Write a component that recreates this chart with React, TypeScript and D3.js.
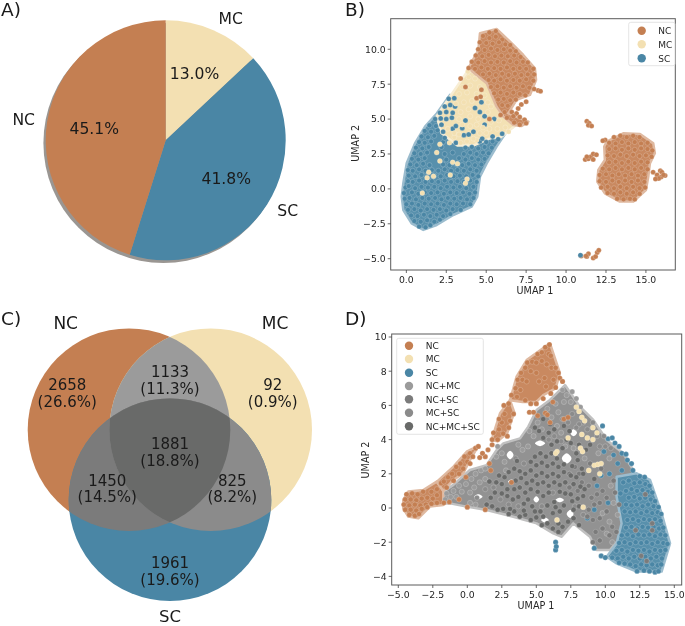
import React from "react";
import * as d3 from "d3";

type P = [number, number];
const BROWN = "#c47f52", CREAM = "#f3e0b2", BLUE = "#4a86a5";
const GA = "#9b9b9b", GB = "#7b7b7b", GC = "#8b8b8b", GD = "#696a69";
const FONT = "'DejaVu Sans', sans-serif";

// Panel A
const pieNames = ["MC", "SC", "NC"];
const pieValues = [13.0, 41.8, 45.1];
const pieColors = [CREAM, BLUE, BROWN];

// Panel C
const vennCounts = [
  ["2658", "(26.6%)"], ["1133", "(11.3%)"], ["92", "(0.9%)"], ["1881", "(18.8%)"],
  ["1450", "(14.5%)"], ["825", "(8.2%)"], ["1961", "(19.6%)"],
];

// Panel B
const bXTicks = [0, 2.5, 5, 7.5, 10, 12.5, 15];
const bYTicks = [-5, -2.5, 0, 2.5, 5, 7.5, 10];
const bHullSC: P[] = [[2.73,6.73],[1.9,5.4],[1.17,4.46],[.54,3.26],[.02,1.83],[-.19,.4],[-.29,-.56],[-.19,-1.51],[.33,-2.47],[1.06,-2.94],[1.9,-2.59],[2.94,-1.87],[4.09,-1.27],[4.44,-.56],[4.61,.88],[5.03,1.83],[5.65,3.03],[6.28,4.1],[4.5,5]];
const bHullMC: P[] = [[3.88,8.52],[2.73,6.61],[1.9,5.2],[2.2,4],[3.2,3.1],[4.19,3.1],[5.2,3.6],[5.9,3.7],[6.8,4.5],[6.07,5.18],[5.65,5.89],[5.03,7.8]];
const bHullNC: P[] = [[3.88,8.64],[4.51,9.95],[4.61,11.15],[5.65,11.46],[6.49,10.55],[7.32,9.59],[8.05,8.64],[8.12,7.8],[7.74,6.73],[6.9,6.37],[6.38,5.41],[7.64,4.82],[7.22,4.51],[6.7,4.58],[6.07,5.18],[5.65,5.89],[5.03,7.56]];
const bHullBlob: P[] = [[12.54,3.38],[13.58,3.98],[14.63,3.93],[15.46,3.26],[15.56,2.55],[15.25,1.83],[15.15,.88],[15,-.08],[14.21,-.91],[13.37,-.91],[12.43,-.32],[11.95,.52],[12.02,1.35],[12.43,2.07],[12.39,3.03]];
const bSC: P[] = [
[.8,-2.7],[1.2,-2.75],[1.5,-2.6],[.5,-2.3],[.9,-2.35],[1.3,-2.25],[1.75,-2.35],[2.1,-2.2],
[.3,-1.9],[.7,-1.95],[1.1,-1.85],[1.5,-1.95],[1.9,-1.85],[2.3,-1.95],[2.75,-1.8],
[.1,-1.5],[.5,-1.45],[.9,-1.55],[1.3,-1.45],[1.7,-1.5],[2.1,-1.45],[2.5,-1.55],[2.9,-1.45],[3.4,-1.5],
[0,-1.1],[.35,-1.05],[.75,-1.15],[1.15,-1.05],[1.55,-1.1],[1.95,-1.05],[2.35,-1.15],[2.75,-1.05],[3.15,-1.1],[3.55,-1.05],[4,-1.1],
[-.1,-.7],[.2,-.65],[.6,-.75],[1,-.65],[1.4,-.7],[1.8,-.65],[2.2,-.75],[2.6,-.65],[3,-.7],[3.4,-.65],[3.8,-.75],[4.2,-.65],
[-.15,-.3],[.35,-.25],[.75,-.35],[1.15,-.25],[1.55,-.3],[1.95,-.25],[2.35,-.35],[2.75,-.25],[3.15,-.3],[3.55,-.25],[3.95,-.35],[4.3,-.25],
[-.05,.1],[.15,.2],[.55,.05],[.95,.15],[1.35,.1],[1.75,.15],[2.15,.05],[2.55,.15],[2.95,.1],[3.35,.15],[3.75,.05],[4.2,.15],
[.1,.55],[.4,.5],[.8,.6],[1.2,.5],[1.6,.55],[2,.5],[2.4,.6],[2.8,.5],[3.2,.55],[3.6,.5],[4,.6],[4.4,.5],
[.15,.95],[.55,.9],[.95,1],[1.35,.9],[1.75,.95],[2.15,.9],[2.55,1],[2.95,.9],[3.35,.95],[3.75,.9],[4.15,1],[4.5,.9],
[.1,1.35],[.4,1.3],[.8,1.4],[1.2,1.3],[1.6,1.35],[2,1.3],[2.4,1.4],[2.8,1.3],[3.2,1.35],[3.6,1.3],[4,1.4],[4.4,1.3],
[.25,1.75],[.65,1.7],[1.05,1.8],[1.45,1.7],[2.3,1.75],[2.7,1.7],[3.1,1.8],[3.5,1.7],[3.9,1.8],[4.3,1.7],[4.7,1.75],
[.35,2.15],[.75,2.1],[1.15,2.2],[2.5,2.1],[3.3,2.2],[3.7,2.1],[4.1,2.2],[4.5,2.1],[4.9,2.15],
[.5,2.55],[.9,2.5],[1.3,2.6],[2.4,2.5],[2.9,2.6],[3.6,2.5],[4,2.6],[4.4,2.5],[4.8,2.6],[5.15,2.55],
[.6,2.95],[1,2.9],[1.4,3],[2.2,3],[3.7,2.95],[4.1,3],[4.5,2.9],[4.9,3],[5.35,2.95],
[.8,3.35],[1.15,3.3],[1.55,3.4],[2.3,3.35],[3.1,3.3],[4.6,3.4],[5,3.35],[5.4,3.4],[5.75,3.55],
[.95,3.75],[1.35,3.7],[1.75,3.8],[2.4,3.65],[3.6,3.85],[3.9,3.9],[4.75,3.6],[5.4,3.75],[6,3.95],
[1.15,4.15],[1.55,4.1],[1.95,4.2],[2.3,4.1],[2.9,4.3],[3.5,4.35],[4.2,4.1],
[1.45,4.55],[1.85,4.5],[2.2,4.6],[3.1,4.5],[4.9,4.6],[5.5,5],
[1.8,5],[2.15,5.05],[2.5,5],[2.85,5.1],
[2.1,5.45],[2.5,5.5],[2.9,5.45],[4.6,5.5],[3.7,4.9],
[2.4,5.9],[2.75,6],[3.05,5.9],[4.9,5.2],[2.65,6.45],[3,6.5],[4.7,6.2],[4.3,5.8]
];
const bMC: P[] = [
[2.1,3.2],[1.9,2.6],[2.7,3.3],[2.1,2],[2.9,1.9],[3.2,1.8],[1.4,1.2],[1.7,.9],[2.75,1],[1.3,.8],[3.8,.7],[3.7,.4],[1,-.3],
[3,3.7],[3.4,3.3],[3,4],[3.3,3.9],[3.8,3.4],[4.4,3.5],[5,4],[4.2,3.6],[4.6,4],[5.2,4.3],[5.7,4.3],[6.2,4.4],[6.4,4.1],
[2.6,4.3],[3.5,4.6],[4,4.5],[4.4,4.6],[4.8,4.4],[5.3,4.8],[5.8,4.9],[3.3,5],[4,5.2],[4.5,5],[5.1,5.5],[3.4,5.5],[3.9,5.7],
[3.1,6.1],[3.6,6.2],[4.1,6.3],[5.1,6.2],[3.3,6.8],[3.8,6.9],[4.4,6.8],[4.9,6.7],[3.5,7.3],[4,7.4],[4.6,7.3],[3.9,8],[4.3,7.9],[3.85,8.4],[5.3,5.9]
];
const bNC: P[] = [
[5.2,11.2],[5.6,11.3],[4.8,10.95],[5.2,10.8],[5.6,10.9],[6,10.7],[4.6,10.5],[5,10.45],[5.4,10.4],[5.8,10.5],[6.2,10.35],[6.5,10.3],
[4.5,10],[4.9,9.95],[5.3,10.05],[5.7,9.95],[6.1,10],[6.5,9.9],[6.85,9.85],[4.35,9.55],[4.75,9.5],[5.15,9.6],[5.55,9.5],[5.95,9.55],[6.35,9.5],[6.75,9.55],[7.15,9.45],
[4.1,9.1],[4.5,9.05],[4.9,9.15],[5.3,9.05],[5.7,9.1],[6.1,9.05],[6.5,9.15],[6.9,9.05],[7.3,9.1],[7.6,9.05],
[3.9,8.65],[4.3,8.6],[4.7,8.7],[5.1,8.6],[5.5,8.65],[5.9,8.6],[6.3,8.7],[6.7,8.6],[7.1,8.65],[7.5,8.6],[7.95,8.6],
[4.8,8.2],[5.2,8.25],[5.6,8.15],[6,8.25],[6.4,8.15],[6.8,8.25],[7.2,8.15],[7.6,8.2],[8,8.2],
[5.15,7.8],[5.5,7.75],[5.9,7.85],[6.3,7.75],[6.7,7.8],[7.1,7.75],[7.5,7.85],[7.95,7.75],[8.25,7.05],[8.4,7],[8,7.15],
[5.3,7.3],[5.7,7.35],[6.1,7.25],[6.5,7.35],[6.9,7.25],[7.3,7.35],[7.7,7.25],[5.5,6.85],[5.9,6.9],[6.3,6.8],[6.7,6.9],[7.1,6.8],[7.45,6.7],
[5.75,6.4],[6.1,6.45],[6.5,6.35],[6.85,6.4],[7.5,6.25],[6,6],[6.35,5.95],[7.2,6.05],[6.15,5.5],[6.6,5.5],[7,5.75],[6.9,5.4],
[6.3,5.1],[6.7,5.2],[7.1,5.15],[7.4,4.95],[6.75,4.75],[7.1,4.6],[7.5,4.7],[3.7,7.3],[4.7,7.1],[4.4,6.5],[4.65,6.6],[5.2,5],[5.9,5.3],[3.4,7.9]
];
const bNCOther: P[] = [
[11.3,4.85],[11.45,4.7],[11.4,4.55],[11.6,4.5],[11.2,2.1],[11.4,2.15],[11.55,2.3],[11.7,2.5],[11.3,2.3],[11.9,2.45],[11.7,2.1],[12.45,3.5],[12.3,3.45],
[10.95,-4.8],[11.3,-4.85],[11.4,-4.65],[11.7,-4.95],[11.85,-4.85],[11.95,-4.55],[12.05,-4.4],[11.25,-4.8],
[15.45,1.2],[15.7,1],[15.9,1.3],[16,1.2],[16.2,.95],[15.95,.85],[15.8,.75],[15.6,.7],[16.1,1],
[13,3.7],[13.4,3.8],[13.8,3.7],[14.2,3.8],[14.6,3.7],[12.7,3.3],[13.1,3.25],[13.5,3.35],[13.9,3.25],[14.3,3.35],[14.7,3.25],[15.1,3.3],
[12.7,2.85],[13.1,2.9],[13.5,2.8],[13.9,2.9],[14.3,2.8],[14.7,2.9],[15.1,2.85],[15.4,2.75],
[12.6,2.4],[13,2.35],[13.4,2.45],[13.8,2.35],[14.2,2.45],[14.6,2.35],[15,2.4],[15.35,2.3],
[12.7,1.9],[13.1,1.95],[13.5,1.85],[13.9,1.95],[14.3,1.85],[14.7,1.95],[15.1,1.9],
[12.3,1.45],[12.7,1.4],[13.1,1.5],[13.5,1.4],[13.9,1.5],[14.3,1.4],[14.7,1.5],[15.1,1.4],
[12.1,1],[12.5,1.05],[12.9,.95],[13.3,1.05],[13.7,.95],[14.1,1.05],[14.5,.95],[14.9,1.05],
[12.1,.55],[12.5,.5],[12.9,.6],[13.3,.5],[13.7,.6],[14.1,.5],[14.5,.6],[14.9,.5],
[12.2,.1],[12.6,.15],[13,.05],[13.4,.15],[13.8,.05],[14.2,.15],[14.6,.05],[14.95,.1],
[12.6,-.3],[13,-.35],[13.4,-.25],[13.8,-.35],[14.2,-.25],[14.6,-.35],[13.2,-.7],[13.6,-.75],[14,-.7],[14.3,-.75]
];
const bSCOther: P[] = [[10.9,-4.75]];

// Panel D
const dXTicks = [-5, -2.5, 0, 2.5, 5, 7.5, 10, 12.5, 15];
const dYTicks = [-4, -2, 0, 2, 4, 6, 8, 10];
const dHullGrey: P[] = [[-1.74,.96],[-1.01,1.35],[.19,2.22],[1.4,2.51],[2.13,3.39],[2.61,3.78],[3.82,4.07],[4.42,4.76],[5.02,5.73],[5.99,6.32],[7.08,7.19],[8.16,5.93],[9.13,5.15],[10.1,3.98],[11.3,3.2],[12.03,2.22],[11.55,-1.29],[10.34,-2.46],[9.37,-2.46],[8.89,-1.68],[7.68,-.9],[6.84,-1.68],[6.23,-1.48],[5.02,-.9],[3.33,-.51],[1.4,-.12],[-.05,.08],[-1.26,.27],[-1.74,.27]];
const dHullBlue: P[] = [[10.82,1.83],[12.27,2.03],[13.24,1.64],[14.08,-.31],[14.69,-2.07],[14.08,-3.72],[12.27,-3.72],[10.82,-3.24],[10.1,-2.85],[10.82,-2.07],[11.18,-.9],[10.82,.66]];
const dHullNC: P[] = [[-4.64,.47],[-4.28,.96],[-3.19,1.05],[-2.22,1.54],[-1.74,1],[-1.74,.18],[-2.7,.08],[-3.55,-.6],[-4.28,-.5],[-4.64,-.02]];
const dHullNCUp: P[] = [[3.1,6.3],[3.57,7.68],[4.3,8.65],[5.99,9.63],[6.71,7.88],[6.4,7],[5.5,6.6],[5,6.2],[4,6.2]];
const dHullNCStrand: P[] = [[1.76,3.98],[2.37,5.54],[3.09,6.32],[3.4,5.6],[2.9,4.4],[2.2,3.9]];
const dHullNCTail: P[] = [[-2.2,1.54],[-1,2.42],[-.05,3.29],[.8,3.63],[.19,2.8],[-.29,2.03],[-1.01,1.64],[-1.74,1]];
const dGaps: P[][] = [
[[.5,.66],[.8,.8],[1.1,.66],[.8,.52]],[[6.4,.47],[6.7,.6],[7,.47],[6.7,.34]],[[7.2,-.35],[7.45,-.12],[7.7,-.35],[7.45,-.58]],
[[2.95,1.54],[3.2,1.66],[3.45,1.54],[3.2,1.42]],[[6.85,2.9],[7.2,3.2],[7.55,2.9],[7.2,2.6]],[[4.9,3.78],[5.27,3.95],[5.64,3.78],[5.27,3.61]],
[[5.35,-.7],[5.63,-.55],[5.9,-.7],[5.63,-.85]],[[4.8,.5],[5,.68],[5.2,.5],[5,.32]],[[2.85,3.1],[3.1,3.35],[3.35,3.1],[3.1,2.85]],[[7.45,4.4],[7.7,4.6],[7.95,4.4],[7.7,4.2]],
];
const dNC: P[] = [
[-4.4,.8],[-4,.85],[-3.6,.8],[-3.2,.95],[-4.5,.5],[-4.1,.5],[-3.7,.45],[-3.3,.55],[-2.9,.6],[-2.5,.55],[-4.6,.2],[-4.2,.15],[-3.8,.2],[-3.4,.15],[-3,.2],[-2.6,.25],[-2.2,.3],[-4.5,-.1],[-4.1,-.1],[-3.7,-.15],[-3.3,-.05],[-2.9,.05],[-4.2,-.4],[-3.8,-.45],[-3.5,-.35],
[-2.6,.95],[-2.2,1.1],[-1.9,1.45],[-2.2,.75],[-1.7,1.55],[-1.4,1.8],[-1.1,2],[-.8,2.4],[-1.5,1.2],[-1,1.6],[-.5,2.6],[-.2,3],[.2,3.2],[.6,3.5],[.8,3.6],[0,2.7],[-.3,2.3],[-.6,2],[.4,3],[.2,2.6],[-.1,1.8],[.9,2.95],[1.3,3],[1.5,3.4],[1.1,3.2],[1.6,2.6],[1.8,3.7],
[-1.7,.3],[-1.3,.35],[-.6,.5],[0,.05],[1.3,-.1],[1.7,2.2],[3.2,1.5],
[1.8,4],[1.9,4.4],[2.2,4],[2.3,4.6],[2.5,5],[2.9,4.2],[2.6,4.35],[3,4.7],[2.3,5.2],[2.7,5.5],[3.1,5.1],[2.65,6],[3,6.1],[3.35,5.5],[3.2,6.6],[3.6,6.5],[3.5,7],[3.85,6.9],[4.2,6.3],[4.6,6.1],[3.65,7.5],[4,7.5],[3.9,7.9],[4.3,7.4],[4.2,8.2],[4.6,8],[4.35,8.5],[4.7,8.55],[5,7.9],[5,8.5],[5.1,9],[5.4,8.6],[5.4,9.1],[5.65,9.4],[5.95,9.55],[5.9,9],[6.05,8.9],[5.75,8.4],[5.2,7.4],[5.6,7.6],[6.1,8.2],[6.4,8.2],[6.6,7.9],[6.7,7.6],[6.25,7.5],[5.7,7.1],[6.4,7.05],[6.9,7.4],[6.05,6.7],[5.5,6.4],[5,6.1],[4.5,5.6],[4.8,5.6],[5.1,5.4],[6.2,6.2],[5.65,5.55],[7,5.2],[7.3,5.3],[6,5],[5.8,5.45]
];
const dMC: P[] = [[7.9,5.9],[8.1,5.65],[8.3,5.3],[8.5,5.1],[9.1,4.7],[9.4,4.4],[8.3,4.3],[8.7,4.1],[9.1,4],[7.3,4.1],[6.5,3.3],[6.4,3.2],[8.2,3.5],[8.35,3.3],[9.2,2.5],[9.45,2.55],[9.7,2.6],[8.8,2.2],[9.6,2],[8.4,.05],[6.5,-.7]];
const dSC: P[] = [
[9.8,4.8],[10.2,4.05],[10.5,4.1],[10.7,3.8],[11,3.6],[9.9,3.3],[11.2,3.2],[11.5,3.15],[11.6,2.8],[10.6,3.1],[11.9,2.6],[12,2.2],[12.5,1.85],[12.85,1.8],[11.2,2.2],[10.9,2.6],[9.7,1.9],[9.4,1.3],[10.3,2],
[11.3,1.5],[11.7,1.6],[12.1,1.45],[12.5,1.5],[12.9,1.4],[13.2,1.3],[11.5,1],[11.9,1.1],[12.3,1],[12.7,1.05],[13.1,.95],[13.4,.9],[11.1,.85],[11.7,.6],[12.1,.65],[12.5,.55],[12.9,.6],[13.3,.5],[13.6,.4],[11.5,.2],[11.9,.15],[12.3,.2],[12.7,.1],[13.1,.2],[13.5,.1],[13.85,.05],
[11.4,-.2],[11.8,-.25],[12.2,-.2],[12.6,-.3],[13,-.2],[13.4,-.3],[13.8,-.25],[14.05,-.35],[11.6,-.7],[12,-.65],[12.4,-.75],[12.8,-.65],[13.2,-.7],[13.6,-.65],[14,-.75],[11.5,-1.15],[11.9,-1.1],[12.3,-1.2],[12.7,-1.1],[13.1,-1.15],[13.5,-1.1],[13.9,-1.2],[14.2,-1.15],
[11.2,-1.6],[11.6,-1.55],[12,-1.65],[12.4,-1.55],[12.8,-1.6],[13.2,-1.55],[13.6,-1.65],[14,-1.55],[14.35,-1.6],[11,-2.05],[11.4,-2],[11.8,-2.1],[12.2,-2],[12.6,-2.05],[13,-2],[13.4,-2.1],[13.8,-2],[14.2,-2.05],[14.5,-2.1],
[10.8,-2.5],[11.2,-2.45],[11.6,-2.55],[12,-2.45],[12.4,-2.5],[12.8,-2.45],[13.2,-2.55],[13.6,-2.45],[14,-2.5],[14.35,-2.45],[10.5,-2.9],[10.9,-2.95],[11.3,-2.85],[11.7,-2.95],[12.1,-2.85],[12.5,-2.95],[12.9,-2.85],[13.3,-2.95],[13.7,-2.85],[14.1,-2.95],
[11,-3.2],[11.4,-3.25],[11.8,-3.3],[12.2,-3.4],[12.6,-3.3],[13,-3.35],[13.4,-3.3],[13.8,-3.35],[14.05,-3.3],[12.3,-3.7],[12.8,-3.65],[13.2,-3.7],[13.6,-3.75],[13.85,-3.7],
[9.2,-2.35],[9.7,-2.8],[10,-2.9],[6.4,-2],[6.4,-2.45],[6.45,-2.25],[8.7,-.6],[9.2,-.1],[10.2,.3]
];
const dNcMc: P[] = [
[-1.6,.5],[-1.2,.65],[-1.5,.85],[-1,1],[-.8,.65],[-.4,.95],[-.6,1.3],[-.1,1.4],[.3,1.7],[.6,2],[1,2.2],[1.3,2.3],[.2,.9],[.5,1.2],[.9,1.5],[1.3,1.7],[.2,.3],[.6,.2],
[2.2,3.6],[2.5,3.2],[2.1,3],[2.7,2.7],[2.8,2.2],[3.7,3.7],[4,3.4],[4.4,3.6],
[4.5,4.5],[4.8,4.2],[5.1,5],[5.4,4.6],[5.8,5.8],[6.1,5.3],[6.4,6.1],[6.6,5.6],[6.9,6.9],[7.2,6.6],[7.5,6.2],[7,6.2],[7.6,6.8],[7.9,6.4],[8.2,5.9],[6.5,4.8],[6.8,4.4],
[7.1,3.6],[7.7,3.5],[8.5,2.9],[9.5,3.2],[10.3,2.9],[10.4,1.3],[10.6,.3],[10.9,-.4],[10.3,-.8],[10.1,-1.5],[10.5,-2],[9.8,-.3]
];
const dNcSc: P[] = [
[7.4,1.2],[8,1],[8.3,1.5],[8.8,1.3],[9,.6],[9.4,.8],[9.8,1],[9.2,.2],[9.6,.3],[8.8,-.1],[9.6,-.6],[9.1,-.7],[8.7,-.5],[10.1,-.2],[10.1,.6],[10.7,.9],[11,.2],[10.5,-1.1],[9.8,-1.2],[9.3,-1.4],[9.6,-1.9],[9.1,-2],[10.3,-1.6],[10.8,-1.4],
[12.6,-2.8],[13,-3.1],[13.4,-1.3],[12.2,-1.3],[12.9,.8],[13.4,-.9],[8.1,2],[8.9,2.6],[9.7,2.3],[7.8,2.4],[7.4,2],[10.6,1.6]
];
const dMcSc: P[] = [
[8.4,5],[8.7,4.6],[9.1,5],[9.4,4.2],[9.9,4.2],[9.6,3.6],[10,3.6],[10.4,3.5],[8.1,4.9],[7.9,4.7],[6.9,5.2],[7.3,5],[7.6,5.5],[6.3,4.2],[6.8,3.9],[5.9,4],[3.5,2.9],[4.1,2.6],[1.9,1.2],[1.3,1.1],[.7,.6],[2.4,.5],[3,.2],[3.7,.1],[5.4,.1],[6.2,.9],[7.8,.1],[8.4,-.4]
];
const dAll: P[] = [
[1.4,.2],[1.8,.1],[2.2,-.1],[2.6,-.05],[3,-.35],[3.4,-.2],[3.8,-.5],[4.2,-.4],[4.6,-.7],[5,-.55],[5.4,-1],[5.8,-.9],[6.2,-1.2],[6.6,-1.4],[6.9,-1.1],[7.3,-.8],[6.6,-.9],[7.7,-.6],[8.1,-1],
[1.7,.6],[2,.9],[2.5,.85],[2.9,.7],[3.3,.5],[3.7,.65],[4.1,.25],[4.4,.5],[4.7,.1],[5.3,-.2],[5.8,.15],[6.2,-.3],[6.7,-.2],[7,.15],[7.6,.4],[3.1,-.05],[4.1,-.15],
[1.6,1.55],[2.1,1.5],[2.5,1.4],[2.9,1.1],[3.4,1.1],[3.8,1.2],[4.2,.9],[4.6,1.1],[5.1,.95],[5.5,.7],[5.9,.9],[6.3,.35],[6.7,.95],[7.1,.85],[7.5,.8],[8,.55],[8.4,.7],
[2.3,1.9],[2.7,1.8],[3.5,1.6],[3.9,1.75],[4.3,1.45],[4.7,1.6],[5.1,1.4],[5.5,1.5],[5.9,1.3],[6.3,1.5],[6.7,1.35],[7.1,1.5],[7.7,1.4],[8.2,1.25],
[3,2.1],[3.4,2.3],[3.8,2.15],[4.2,2],[4.6,2.2],[5,1.9],[5.4,2.05],[5.8,1.85],[6.2,2],[6.6,1.85],[7,2.1],[7.5,1.9],[7.9,1.8],[8.4,2],
[3.6,2.75],[4.6,2.7],[5,2.5],[5.4,2.65],[5.8,2.45],[6.2,2.6],[6.6,2.4],[7,2.55],[7.6,2.45],[8,2.8],[8.3,2.3],
[4.9,3],[5.3,3.2],[5.7,3],[6.1,3.2],[6.5,2.9],[7.9,3.2],[8.1,3.7],[7.5,3.8],[6.1,3.7],[6.5,3.9],[6.9,3.5],
[5.9,4.4],[6.3,4.6],[7,4.8],[7.4,4.5],[7.2,4],[5.5,4.1],[5.2,4.5],[4.9,4.7],[5.5,5.2],[6,4.9],[8.9,3.7],[8.6,3.4],
[7.7,-.1],[8.1,.1],[5.5,-.5],[4.9,-.2],[6.4,.05],[8.5,1.1],[9.2,1.7]
];

const dLegend: [string, string][] = [["NC", BROWN],["MC", CREAM],["SC", BLUE],["NC+MC", GA],["NC+SC", GB],["MC+SC", GC],["NC+MC+SC", GD]];
const bLegend: [string, string][] = [["NC", BROWN],["MC", CREAM],["SC", BLUE]];

function tone(c: string, t: number) { return d3.interpolateRgb(c, "#ffffff")(t); }
const fmt = (v: number, digits: number) => (v < 0 ? "\u2212" : "") + Math.abs(v).toFixed(digits);

function Frame({ x, y, box, xTicks, yTicks, yDigits, labelY1, labelX2, labelCy, labelCx }: any) {
  const [left, top, right, bottom] = box;
  return (
    <g fontFamily={FONT} fill="#262626">
      <rect x={left} y={top} width={right - left} height={bottom - top} fill="none" stroke="#5a5a5a" strokeWidth={1} />
      {xTicks.map((v: number) => (
        <g key={v}>
          <line x1={x(v)} x2={x(v)} y1={bottom} y2={bottom + 3} stroke="#444" strokeWidth={0.8} />
          <text x={x(v)} y={bottom + 12.5} textAnchor="middle" fontSize={9.3}>{fmt(v, 1)}</text>
        </g>
      ))}
      {yTicks.map((v: number) => (
        <g key={v}>
          <line x1={left} x2={left - 3} y1={y(v)} y2={y(v)} stroke="#444" strokeWidth={0.8} />
          <text x={left - 5} y={y(v) + 3.4} textAnchor="end" fontSize={9.3}>{fmt(v, yDigits)}</text>
        </g>
      ))}
      <text x={labelCx} y={labelY1} textAnchor="middle" fontSize={9.6}>UMAP 1</text>
      <text transform={`translate(${labelX2},${labelCy}) rotate(-90)`} textAnchor="middle" fontSize={9.6}>UMAP 2</text>
    </g>
  );
}

function Dots({ pts, x, y, color, r }: { pts: P[]; x: any; y: any; color: string; r: number }) {
  return <g>{pts.map((p, i) => <circle key={i} cx={x(p[0])} cy={y(p[1])} r={r} fill={color} stroke="#fff" strokeOpacity={0.4} strokeWidth={0.5} />)}</g>;
}

function Legend({ items, box, mx, tx, ys, fs }: any) {
  return (
    <g fontFamily={FONT}>
      <rect x={box[0]} y={box[1]} width={box[2]} height={box[3]} rx={2} fill="#fff" fillOpacity={0.85} stroke="#ddd" strokeWidth={0.8} />
      {items.map((it: [string, string], i: number) => (
        <g key={it[0]}>
          <circle cx={mx} cy={ys[i]} r={4.2} fill={it[1]} />
          <text x={tx} y={ys[i] + 3.2} fontSize={fs} fill="#262626">{it[0]}</text>
        </g>
      ))}
    </g>
  );
}

function Blob({ pts, x, y, color, t }: any) {
  const line = d3.line<P>().x(p => x(p[0])).y(p => y(p[1])).curve(d3.curveLinearClosed);
  return <path d={line(pts) as string} fill={tone(color, t)} stroke={tone(color, 0.45)} strokeWidth={2.5} strokeLinejoin="round" />;
}

export default function App() {
  const pie = d3.pie<number>().sort(null).startAngle(0).endAngle(2 * Math.PI)(pieValues);
  const arc = d3.arc<any>().innerRadius(0).outerRadius(120);

  const bx = d3.scaleLinear().domain([-0.98, 16.84]).range([390.7, 675.3]);
  const by = d3.scaleLinear().domain([-5.81, 12.19]).range([270, 18.7]);
  const dx = d3.scaleLinear().domain([-5, 15]).range([398.3, 674.3]);
  const dy = d3.scaleLinear().domain([-4, 10]).range([576.4, 337]);
  const gapLine = d3.line<P>().x(p => dx(p[0])).y(p => dy(p[1])).curve(d3.curveCatmullRomClosed);

  const cNC = [129, 429.7], cMC = [210.7, 429.7], cSC = [170, 499.7], R = 101.3;
  const vennPos: [number, number, number][] = [[67.3, 384.3, 401], [170, 371, 388.3], [272.7, 384.3, 401], [170, 443.3, 460.7], [107.3, 480, 496.7], [232.3, 480, 496.7], [170, 562.3, 579.3]];

  return (
    <svg width={685} height={626} style={{ position: "absolute", left: 0, top: 0, filter: "blur(0.35px)" }} fontFamily={FONT}>
      <defs>
        <clipPath id="cnc"><circle cx={cNC[0]} cy={cNC[1]} r={R} /></clipPath>
        <clipPath id="cmc"><circle cx={cMC[0]} cy={cMC[1]} r={R} /></clipPath>
      </defs>
      <rect width={685} height={626} fill="#fff" />

      {/* A */}
      <text x={1} y={15.5} fontSize={18.5} fill="#1a1a1a">A)</text>
      <circle cx={163.4} cy={143} r={120} fill="#9a9692" />
      <g transform="translate(165.7,140.3)">
        {pie.map((s, i) => <path key={i} d={arc(s) as string} fill={pieColors[i]} />)}
      </g>
      <g fontSize={15.6} fill="#1a1a1a" textAnchor="middle">
        <text x={194.5} y={79}>{pieValues[0].toFixed(1)}%</text>
        <text x={226.3} y={183.6}>{pieValues[1].toFixed(1)}%</text>
        <text x={94.3} y={134}>{pieValues[2].toFixed(1)}%</text>
        <text x={230.7} y={24}>{pieNames[0]}</text>
        <text x={287.7} y={215.6}>{pieNames[1]}</text>
        <text x={23.7} y={125}>{pieNames[2]}</text>
      </g>

      {/* C */}
      <text x={1} y={325} fontSize={18.5} fill="#1a1a1a">C)</text>
      <circle cx={cNC[0]} cy={cNC[1]} r={R} fill={BROWN} />
      <circle cx={cMC[0]} cy={cMC[1]} r={R} fill={CREAM} />
      <circle cx={cSC[0]} cy={cSC[1]} r={R} fill={BLUE} />
      <g clipPath="url(#cnc)"><circle cx={cMC[0]} cy={cMC[1]} r={R} fill={GA} /><circle cx={cSC[0]} cy={cSC[1]} r={R} fill={GB} /></g>
      <g clipPath="url(#cmc)"><circle cx={cSC[0]} cy={cSC[1]} r={R} fill={GC} /></g>
      <g clipPath="url(#cnc)"><g clipPath="url(#cmc)"><circle cx={cSC[0]} cy={cSC[1]} r={R} fill={GD} /></g></g>
      <g fontSize={17} fill="#1a1a1a" textAnchor="middle">
        <text x={65.7} y={328.5}>NC</text>
        <text x={275} y={328.5}>MC</text>
        <text x={170} y={622} fontSize={16.5}>SC</text>
      </g>
      <g fontSize={15} fill="#1a1a1a" textAnchor="middle">
        {vennCounts.map((c, i) => (
          <g key={i}>
            <text x={vennPos[i][0]} y={vennPos[i][1] + 5.5}>{c[0]}</text>
            <text x={vennPos[i][0]} y={vennPos[i][2] + 5.5}>{c[1]}</text>
          </g>
        ))}
      </g>

      {/* B */}
      <text x={345} y={15.5} fontSize={18.5} fill="#1a1a1a">B)</text>
      <Blob pts={bHullSC} x={bx} y={by} color={BLUE} t={0.08} />
      <Blob pts={bHullMC} x={bx} y={by} color={CREAM} t={0.03} />
      <Blob pts={bHullNC} x={bx} y={by} color={BROWN} t={0.08} />
      <Blob pts={bHullBlob} x={bx} y={by} color={BROWN} t={0.08} />
      <Dots pts={bSC} x={bx} y={by} color={BLUE} r={2.5} />
      <Dots pts={bMC} x={bx} y={by} color={CREAM} r={2.5} />
      <Dots pts={bNC} x={bx} y={by} color={BROWN} r={2.5} />
      <Dots pts={bNCOther} x={bx} y={by} color={BROWN} r={2.5} />
      <Dots pts={bSCOther} x={bx} y={by} color={BLUE} r={2.5} />
      <Frame x={bx} y={by} box={[390.7, 18.7, 675.3, 270]} xTicks={bXTicks} yTicks={bYTicks} yDigits={1} labelY1={293.5} labelX2={359} labelCy={143.3} labelCx={535} />
      <Legend items={bLegend} box={[628.7, 22.3, 46.3, 43.4]} mx={641.7} tx={658.3} ys={[30.7, 44.3, 58.3]} fs={9} />

      {/* D */}
      <text x={345} y={325} fontSize={18.5} fill="#1a1a1a">D)</text>
      <Blob pts={dHullGrey} x={dx} y={dy} color="#8c8c8c" t={0.05} />
      <Blob pts={dHullBlue} x={dx} y={dy} color={BLUE} t={0.08} />
      <Blob pts={dHullNC} x={dx} y={dy} color={BROWN} t={0.08} />
      <Blob pts={dHullNCUp} x={dx} y={dy} color={BROWN} t={0.08} />
      <Blob pts={dHullNCStrand} x={dx} y={dy} color={BROWN} t={0.08} />
      <Blob pts={dHullNCTail} x={dx} y={dy} color={BROWN} t={0.08} />
      {dGaps.map((g, i) => <path key={i} d={gapLine(g) as string} fill="#fff" />)}
      <Dots pts={dSC} x={dx} y={dy} color={BLUE} r={2.6} />
      <Dots pts={dNcMc} x={dx} y={dy} color={GA} r={2.6} />
      <Dots pts={dMcSc} x={dx} y={dy} color={GC} r={2.6} />
      <Dots pts={dNcSc} x={dx} y={dy} color={GB} r={2.6} />
      <Dots pts={dAll} x={dx} y={dy} color={GD} r={2.6} />
      <Dots pts={dNC} x={dx} y={dy} color={BROWN} r={2.6} />
      <Dots pts={dMC} x={dx} y={dy} color={CREAM} r={2.6} />
      <Frame x={dx} y={dy} box={[391.7, 334, 681.7, 585]} xTicks={dXTicks} yTicks={dYTicks} yDigits={0} labelY1={608.5} labelX2={369} labelCy={460} labelCx={536} />
      <Legend items={dLegend} box={[396.7, 338.3, 86.6, 96]} mx={409} tx={425.7} ys={[345.7, 359, 372.7, 386, 399.3, 412.7, 426.3]} fs={9} />
    </svg>
  );
}
